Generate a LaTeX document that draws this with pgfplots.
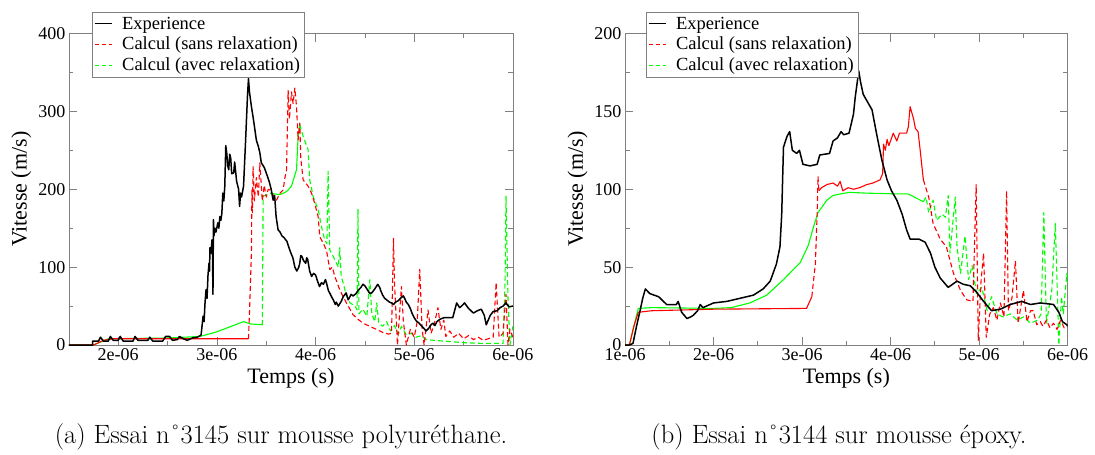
\documentclass[border=0pt]{standalone}
\usepackage{fontspec}
\usepackage{pgfplots}
\pgfplotsset{compat=1.18}
\usepackage{pgfplotstable}
\newfontfamily\tnr{Liberation Serif}
\definecolor{xred}{RGB}{255,0,0}
\definecolor{xgreen}{RGB}{0,255,0}

% ---------- left panel (Essai 3145) ----------
\pgfplotstableread{
t v
1.50 0
1.74 0
1.74 5
1.80 5
1.82 10
1.85 5
1.90 5
1.92 11
1.95 6
2.00 6
2.02 11
2.05 5
2.15 5
2.17 11
2.20 6
2.30 6
2.32 10
2.35 5
2.45 5
2.48 11
2.52 11
2.55 6
2.60 7
2.62 11
2.66 8
2.70 6
2.75 9
2.80 10
2.83 12
2.84 13
2.85 25
2.86 37
2.87 30
2.88 55
2.89 71
2.90 60
2.91 90
2.92 105
2.925 95
2.93 125
2.94 118
2.95 135
2.955 120
2.96 65
2.965 161
2.97 140
2.98 150
2.99 145
3.01 157
3.02 150
3.03 165
3.04 160
3.05 169
3.06 195
3.07 185
3.08 204
3.09 256
3.10 246
3.11 230
3.12 225
3.13 245
3.14 240
3.15 220
3.17 221
3.18 235
3.20 210
3.22 200
3.23 178
3.24 195
3.25 190
3.27 204
3.29 260
3.31 320
3.32 342
3.33 325
3.35 306
3.37 290
3.40 263
3.42 255
3.435 247
3.45 234
3.48 228
3.50 221
3.53 210
3.55 200
3.57 186
3.585 192
3.60 165
3.62 148
3.64 145
3.66 140
3.68 138
3.71 133
3.73 125
3.75 118
3.77 112
3.79 100
3.81 95
3.83 100
3.84 105
3.85 115
3.86 114
3.88 108
3.90 105
3.91 112
3.92 110
3.94 95
3.96 88
3.98 92
4.00 90
4.02 82
4.04 75
4.06 80
4.08 78
4.10 84
4.11 80
4.13 70
4.15 65
4.17 60
4.18 58
4.20 52
4.21 55
4.23 50
4.24 52
4.26 56
4.28 62
4.31 67
4.33 58
4.34 60
4.36 65
4.38 63
4.41 66
4.43 70
4.46 74
4.48 78
4.50 76
4.52 72
4.55 66
4.57 67
4.60 72
4.63 78
4.65 74
4.66 70
4.68 64
4.70 60
4.73 57
4.75 55
4.77 54
4.79 52
4.81 55
4.84 57
4.86 60
4.89 63
4.91 58
4.92 55
4.94 52
4.96 47
4.98 40
5.00 35
5.02 31
5.05 28
5.07 25
5.10 21
5.12 18
5.15 22
5.17 26
5.19 28
5.21 25
5.23 30
5.26 33
5.30 35
5.39 35
5.43 54
5.46 48
5.48 50
5.51 54
5.55 47
5.60 41
5.64 44
5.68 46
5.71 38
5.73 26
5.77 38
5.80 43
5.84 44
5.87 48
5.90 50
5.93 54
5.96 49
6.00 50
}\lexp

\pgfplotstableread{
t v
1.50 0
1.75 0
1.85 6
1.95 8
2.50 8
3.00 8
3.32 8
3.33 40
3.35 120
3.355 199
3.36 170
3.367 229
3.38 185
3.40 215
3.42 190
3.435 234
3.46 185
3.48 205
3.50 190
3.52 200
3.537 199
3.604 186
3.64 195
3.671 199
3.69 215
3.706 225
3.722 327
3.735 290
3.756 325
3.772 310
3.79 330
3.807 306
3.823 263
3.84 285
3.85 240
3.874 212
3.90 208
3.924 204
3.959 195
3.991 182
4.026 165
4.043 139
4.076 131
4.11 122
4.144 97
4.17 100
4.195 88
4.245 71
4.28 62
4.313 54
4.38 39
4.43 33
4.481 28
4.55 24
4.617 20
4.684 16
4.74 14
4.77 15
4.79 137
4.80 80
4.83 0
4.87 75
4.89 30
4.92 0
4.96 20
5.00 10
5.03 30
5.056 97
5.08 20
5.10 0
5.14 45
5.17 15
5.20 25
5.24 48
5.27 20
5.30 32
5.32 11
5.36 18
5.40 10
5.45 15
5.50 8
5.55 12
5.60 7
5.65 10
5.70 6
5.75 8
5.80 10
5.83 80
5.86 10
5.90 15
5.93 65
5.95 0
5.97 20
6.00 10
}\lred

\pgfplotstableread{
t v
1.50 0
1.75 0
1.90 8
2.50 9
2.83 11
3.00 17
3.27 30
3.34 27
3.46 26
3.469 191
3.537 195
3.638 193
3.706 197
3.756 204
3.807 225
3.823 268
3.84 283
3.874 268
3.924 251
3.941 212
3.975 191
4.026 174
4.06 152
4.093 135
4.115 130
4.127 223
4.144 122
4.178 114
4.212 105
4.23 100
4.245 125
4.26 88
4.279 80
4.313 63
4.35 54
4.40 50
4.42 45
4.43 174
4.44 40
4.48 46
4.52 37
4.55 84
4.57 40
4.60 30
4.62 54
4.64 28
4.68 24
4.72 30
4.76 18
4.80 25
4.84 14
4.87 24
4.92 13
4.97 15
5.02 10
5.07 12
5.12 7
5.20 6
5.30 5
5.40 4
5.50 3
5.70 2
5.90 2
5.92 80
5.93 191
5.95 60
5.97 0
6.00 24
}\lgreen

% ---------- right panel (Essai 3144) ----------
\pgfplotstableread{
t v
1.00 0
1.05 0
1.09 1
1.13 12
1.17 22
1.20 30
1.23 36
1.28 33
1.33 32
1.38 31
1.47 26
1.58 26
1.60 28
1.64 21
1.70 17
1.74 18
1.77 19
1.82 22
1.85 26
1.88 24
1.92 25
2.00 27
2.15 28
2.30 30
2.45 32
2.56 36
2.64 41
2.71 52
2.75 63
2.77 84
2.78 106
2.79 127
2.83 134
2.86 137
2.89 125
2.94 123
2.97 125
3.01 116
3.09 115
3.17 116
3.20 122
3.31 123
3.35 131
3.40 133
3.44 137
3.47 135
3.53 136
3.58 148
3.60 159
3.64 176
3.66 169
3.69 161
3.73 157
3.79 151
3.84 136
3.90 119
3.96 106
4.01 99
4.03 97
4.07 93
4.13 84
4.18 74
4.22 68
4.32 68
4.39 66
4.45 59
4.50 50
4.56 43
4.65 37
4.75 41
4.82 39
4.90 38
4.97 34
5.05 28
5.14 22
5.24 23
5.35 26
5.48 28
5.58 26
5.69 27
5.84 26
5.90 21
5.94 15
5.99 13
6.00 12
}\rexp

\pgfplotstableread{
t v
1.00 0
1.05 0
1.10 12
1.15 21
1.30 22
2.00 23
3.05 23.5
3.11 31
3.15 52
3.17 84
3.18 108
3.19 99
3.22 101
3.28 103
3.35 104
3.40 102
3.43 105
3.46 99
3.52 101
3.58 100
3.65 101
3.73 103
3.80 104
3.88 106
3.91 110
3.92 129
3.94 125
3.96 132
3.98 128
4.03 136
4.07 131
4.10 136
4.18 136
4.20 140
4.22 153
4.23 151
4.26 145
4.28 139
4.31 137
4.33 127
4.37 106
4.43 95
4.48 78
4.56 68
4.63 63
4.71 46
4.79 35
4.86 29
4.93 28
4.966 103
4.99 3
5.02 40
5.05 59
5.08 5
5.12 20
5.16 24
5.20 16
5.24 27
5.28 18
5.31 99
5.33 22
5.37 30
5.41 54
5.44 14
5.50 35
5.54 15
5.58 22
5.61 22
5.65 13
5.69 15
5.72 12
5.76 16
5.80 11
5.84 14
5.88 10
5.92 16
5.96 11
6.00 12
}\rred

\pgfplotstableread{
t v
1.00 0
1.05 0
1.10 12
1.15 23.5
1.30 24
2.00 23.5
2.20 24
2.41 27
2.60 32
2.79 42
2.98 53
3.07 64
3.13 76
3.18 85
3.28 93
3.35 96
3.43 97
3.54 98
3.73 97.5
4.10 97
4.20 97
4.30 94
4.37 92
4.40 95
4.43 85
4.48 93
4.52 80
4.58 84
4.62 82
4.65 96
4.67 59
4.73 95
4.75 63
4.79 46
4.84 70
4.88 42
4.92 51
4.97 33
5.03 37
5.09 22
5.14 31
5.20 20
5.27 18
5.35 20
5.43 16
5.50 18
5.58 14
5.66 16
5.70 20
5.73 85
5.76 14
5.82 35
5.86 78
5.88 40
5.90 0
5.93 31
5.95 20
5.99 46
6.00 40
}\rgreen

\pgfplotsset{
  xg/.style={
    scale only axis, height=311.5pt,
    axis line style={black!50, line width=0.8pt},
    every tick/.style={black!50, line width=0.8pt},
    tick align=inside, major tick length=8pt, minor tick length=4.5pt,
    ticklabel style={font=\tnr\fontsize{18}{20}\selectfont},
    /pgf/number format/assume math mode=true,
    label style={font=\tnr\fontsize{22}{25}\selectfont},
    xlabel={Temps (s)}, ylabel={Vitesse (m/s)},
    xlabel style={at={(axis description cs:0.5,0)}, anchor=center, yshift=-33.5pt},
    ylabel style={at={(axis description cs:0,0.5)}, anchor=center, yshift=47.5pt},
    legend cell align=left,
    legend style={anchor=north west, draw=black!50, fill=white,
      font=\tnr\fontsize{18.5}{21}\selectfont, inner xsep=2pt, inner ysep=3pt,
      row sep=2.5pt, column sep=8pt},
    legend image code/.code={\draw[#1] (0pt,0pt) -- (17pt,0pt);},
    ex/.style={black, line width=1.5pt, line join=round},
    cr/.style={xred, line width=1.1pt, line join=round},
    cg/.style={xgreen, line width=1.1pt, line join=round},
    dsh/.style={dash pattern=on 5pt off 3pt},
  }
}

\begin{document}
\begin{tikzpicture}
\useasboundingbox (0pt,0pt) rectangle (1095pt,-455pt);

% ----- left axis -----
\begin{axis}[xg, at={(68.9pt,-33.5pt)}, anchor=north west, width=444pt,
  xmin=1.5, xmax=6, ymin=0, ymax=400,
  xtick={2,3,4,5,6}, xticklabels={2e-06,3e-06,4e-06,5e-06,6e-06},
  minor xtick={1.5,2.5,3.5,4.5,5.5},
  ytick={0,100,200,300,400}, minor ytick={50,150,250,350},
  legend style={at={(rel axis cs:0.052,1.07)}}]
\addlegendimage{black, line width=1pt}
\addlegendentry{Experience}
\addlegendimage{xred, line width=1pt, dash pattern=on 4pt off 3pt}
\addlegendentry{Calcul (sans relaxation)}
\addlegendimage{xgreen, line width=1pt, dash pattern=on 4pt off 3pt}
\addlegendentry{Calcul (avec relaxation)}
\addplot[cg, forget plot, restrict x to domain=1.5:3.46] table[x=t,y=v] {\lgreen};
\addplot[cg, dsh, forget plot, restrict x to domain=3.46:3.537] table[x=t,y=v] {\lgreen};
\addplot[cg, forget plot, restrict x to domain=3.537:3.84] table[x=t,y=v] {\lgreen};
\addplot[cg, dsh, forget plot, restrict x to domain=3.84:6] table[x=t,y=v] {\lgreen};
\addplot[cr, forget plot, restrict x to domain=1.5:3.32] table[x=t,y=v] {\lred};
\addplot[cr, dsh, forget plot, restrict x to domain=3.32:6] table[x=t,y=v] {\lred};
\addplot[ex, forget plot] table[x=t,y=v] {\lexp};
\end{axis}

% ----- right axis -----
\begin{axis}[xg, at={(625pt,-33.5pt)}, anchor=north west, width=442.7pt,
  xmin=1, xmax=6, ymin=0, ymax=200,
  xtick={1,2,3,4,5,6}, xticklabels={1e-06,2e-06,3e-06,4e-06,5e-06,6e-06},
  minor xtick={1.5,2.5,3.5,4.5,5.5},
  ytick={0,50,100,150,200}, minor ytick={25,75,125,175},
  legend style={at={(rel axis cs:0.047,1.07)}}]
\addlegendimage{black, line width=1pt}
\addlegendentry{Experience}
\addlegendimage{xred, line width=1pt, dash pattern=on 4pt off 3pt}
\addlegendentry{Calcul (sans relaxation)}
\addlegendimage{xgreen, line width=1pt, dash pattern=on 4pt off 3pt}
\addlegendentry{Calcul (avec relaxation)}
\addplot[cg, forget plot, restrict x to domain=1:4.37] table[x=t,y=v] {\rgreen};
\addplot[cg, dsh, forget plot, restrict x to domain=4.37:6] table[x=t,y=v] {\rgreen};
\addplot[cr, forget plot, restrict x to domain=1:3.11] table[x=t,y=v] {\rred};
\addplot[cr, dsh, forget plot, restrict x to domain=3.11:3.19] table[x=t,y=v] {\rred};
\addplot[cr, forget plot, restrict x to domain=3.19:4.37] table[x=t,y=v] {\rred};
\addplot[cr, dsh, forget plot, restrict x to domain=4.37:6] table[x=t,y=v] {\rred};
\addplot[ex, forget plot] table[x=t,y=v] {\rexp};
\end{axis}

\node[font=\fontsize{26.5}{30}\selectfont] at (281pt,-437pt) {(a) Essai n\kern-0.14em˚\kern-0.14em3145 sur mousse polyuréthane.};
\node[font=\fontsize{26.5}{30}\selectfont] at (839pt,-437pt) {(b) Essai n\kern-0.14em˚\kern-0.14em3144 sur mousse époxy.};
\end{tikzpicture}
\end{document}
